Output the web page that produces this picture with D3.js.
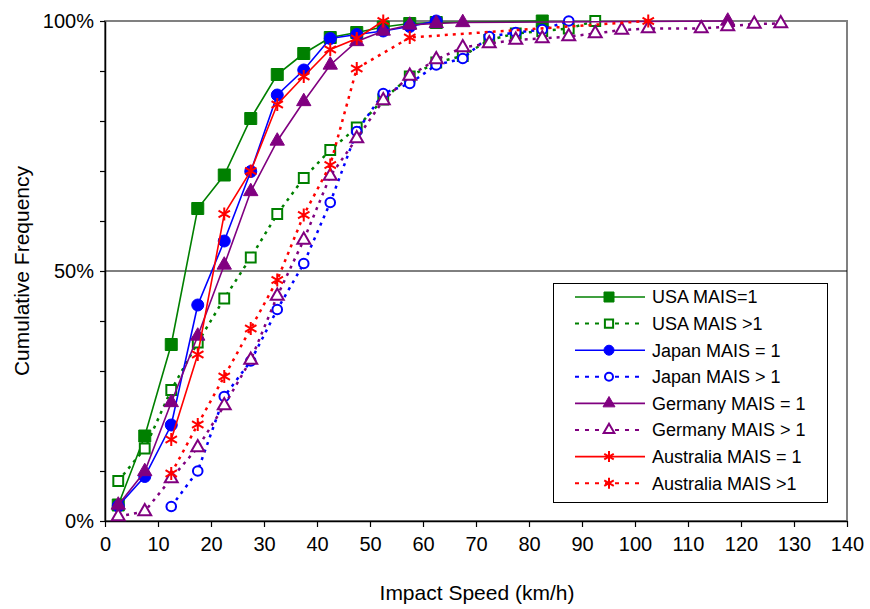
<!DOCTYPE html>
<html>
<head>
<meta charset="utf-8">
<script src="https://cdn.jsdelivr.net/npm/d3@7"></script>
<style>
  html, body { margin: 0; padding: 0; background: #fff; }
  svg { display: block; font-family: "Liberation Sans", Arial, sans-serif; }
</style>
</head>
<body>
<svg id="chart" width="870" height="609"></svg>
<script>
// Cumulative frequency (%) of impact speed by country and injury level
const usa1Speed    = [2.5, 7.5, 12.5, 17.5, 22.5, 27.5, 32.5, 37.5, 42.5, 47.5, 52.5, 57.5, 62.5, 82.5];
const usa1Values   = [3.2, 17, 35.3, 62.5, 69.2, 80.5, 89.3, 93.5, 96.7, 97.7, 98.8, 99.5, 99.7, 100];

const usa2Speed    = [2.5, 7.5, 12.5, 17.5, 22.5, 27.5, 32.5, 37.5, 42.5, 47.5, 52.5, 57.5, 62.5, 67.5, 72.5, 77.5, 82.5, 87.5, 92.5];
const usa2Values   = [8, 14.5, 26.2, 35.7, 44.5, 52.7, 61.4, 68.6, 74.2, 78.7, 84.3, 88.9, 91.7, 93, 96.2, 97.5, 98, 98.5, 100];

const japan1Speed  = [2.5, 7.5, 12.5, 17.5, 22.5, 27.5, 32.5, 37.5, 42.5, 47.5, 52.5, 57.5, 62.5];
const japan1Values = [3, 8.9, 19.2, 43.2, 56, 69.9, 85.2, 90.2, 96.5, 97.3, 98, 98.9, 100];

const japan2Speed  = [12.5, 17.5, 22.5, 27.5, 32.5, 37.5, 42.5, 47.5, 52.5, 57.5, 62.5, 67.5, 72.5, 77.5, 82.5, 87.5];
const japan2Values = [2.9, 10, 24.9, 32, 42.3, 51.5, 63.7, 77.9, 85.5, 87.5, 91.2, 92.5, 96.9, 97.7, 98.3, 100];

const germany1Speed  = [2.5, 7.5, 12.5, 17.5, 22.5, 27.5, 32.5, 37.5, 42.5, 47.5, 52.5, 57.5, 62.5, 67.5, 117.5];
const germany1Values = [3.2, 9.9, 23.7, 37, 51.2, 65.9, 76, 83.9, 91.2, 95.9, 98, 99.2, 99.5, 99.7, 100];

const germany2Speed  = [2.5, 7.5, 12.5, 17.5, 22.5, 27.5, 32.5, 37.5, 42.5, 47.5, 52.5, 57.5, 62.5, 67.5, 72.5, 77.5, 82.5, 87.5, 92.5, 97.5, 102.5, 112.5, 117.5, 122.5, 127.5];
const germany2Values = [0.9, 1.9, 8.5, 14.7, 23.1, 32.2, 45, 56.2, 69, 76.5, 84.1, 89, 92.3, 94.7, 95.5, 96.2, 96.5, 96.9, 97.5, 98.2, 98.5, 98.5, 98.9, 99.4, 99.5];

const australia1Speed  = [12.5, 17.5, 22.5, 27.5, 32.5, 37.5, 42.5, 47.5, 52.5];
const australia1Values = [16.3, 33.3, 61.4, 70, 83.3, 88.9, 94.3, 96.5, 100];

const australia2Speed  = [12.5, 17.5, 22.5, 27.5, 32.5, 37.5, 42.5, 47.5, 57.5, 102.5];
const australia2Values = [9.5, 19.3, 28.9, 38.5, 48.2, 61.2, 71.2, 90.5, 96.7, 100];

const seriesNames = ["USA MAIS=1", "USA MAIS >1", "Japan MAIS = 1", "Japan MAIS > 1",
                     "Germany MAIS = 1", "Germany MAIS > 1", "Australia MAIS = 1", "Australia MAIS >1"];
const xTickValues = [0, 10, 20, 30, 40, 50, 60, 70, 80, 90, 100, 110, 120, 130, 140];
const yLabelTicks = [0, 50, 100];

const series = [
  { name: seriesNames[0], speed: usa1Speed, value: usa1Values, color: "#008000", dashed: false, shape: "square", filled: true },
  { name: seriesNames[1], speed: usa2Speed, value: usa2Values, color: "#008000", dashed: true,  shape: "square", filled: false },
  { name: seriesNames[2], speed: japan1Speed, value: japan1Values, color: "#0000FF", dashed: false, shape: "circle", filled: true },
  { name: seriesNames[3], speed: japan2Speed, value: japan2Values, color: "#0000FF", dashed: true,  shape: "circle", filled: false },
  { name: seriesNames[4], speed: germany1Speed, value: germany1Values, color: "#800080", dashed: false, shape: "triangle", filled: true },
  { name: seriesNames[5], speed: germany2Speed, value: germany2Values, color: "#800080", dashed: true,  shape: "triangle", filled: false },
  { name: seriesNames[6], speed: australia1Speed, value: australia1Values, color: "#FF0000", dashed: false, shape: "star", filled: true },
  { name: seriesNames[7], speed: australia2Speed, value: australia2Values, color: "#FF0000", dashed: true,  shape: "star", filled: false }
];

const svg = d3.select("#chart");
const plotLeft = 105, plotRight = 847, plotTop = 21, plotBottom = 521;

const x = d3.scaleLinear().domain([0, 140]).range([plotLeft, plotRight]);
const y = d3.scaleLinear().domain([0, 100]).range([plotBottom, plotTop]);

// plot frame (top / right edges in gray)
svg.append("rect")
  .attr("x", plotLeft).attr("y", plotTop)
  .attr("width", plotRight - plotLeft).attr("height", plotBottom - plotTop)
  .attr("fill", "none").attr("stroke", "#808080").attr("stroke-width", 2);

// 50% reference line
svg.append("line")
  .attr("x1", plotLeft).attr("x2", plotRight)
  .attr("y1", y(50)).attr("y2", y(50))
  .attr("stroke", "#000").attr("stroke-width", 1);

// axes
const xAxis = d3.axisBottom(x).tickValues(xTickValues).tickSize(6).tickSizeOuter(0).tickPadding(10);
const gx = svg.append("g").attr("transform", `translate(0,${plotBottom})`).call(xAxis);
gx.select(".domain").attr("stroke", "#000").attr("stroke-width", 1.5);
gx.selectAll(".tick line").attr("stroke", "#000").attr("stroke-width", 1.2);
gx.selectAll(".tick text").attr("font-size", 20).attr("fill", "#000")
  .attr("font-family", "'Liberation Sans', Arial, sans-serif");

const yAxis = d3.axisLeft(y).tickValues(d3.range(0, 101, 10)).tickSize(5).tickSizeOuter(0)
  .tickPadding(6)
  .tickFormat(d => yLabelTicks.includes(d) ? d + "%" : "");
const gy = svg.append("g").attr("transform", `translate(${plotLeft},0)`).call(yAxis);
gy.select(".domain").attr("stroke", "#000").attr("stroke-width", 1.5);
gy.selectAll(".tick line").attr("stroke", "#000").attr("stroke-width", 1.2);
gy.selectAll(".tick text").attr("font-size", 20).attr("fill", "#000")
  .attr("font-family", "'Liberation Sans', Arial, sans-serif");

// axis titles
svg.append("text")
  .attr("x", (plotLeft + plotRight) / 2 + 1).attr("y", 600)
  .attr("text-anchor", "middle").attr("font-size", 21).attr("fill", "#000")
  .text("Impact Speed (km/h)");
svg.append("text")
  .attr("transform", `translate(29,${(plotTop + plotBottom) / 2}) rotate(-90)`)
  .attr("text-anchor", "middle").attr("font-size", 21).attr("fill", "#000")
  .text("Cumulative Frequency");

// marker drawing
function drawMarker(g, s, size) {
  const c = s.color;
  if (s.shape === "star") {
    const r = size * 0.55;
    const p = d3.path();
    for (let k = 0; k < 3; k++) {
      const a = Math.PI / 2 + k * Math.PI / 3;
      p.moveTo(-r * Math.cos(a), -r * Math.sin(a));
      p.lineTo(r * Math.cos(a), r * Math.sin(a));
    }
    g.append("path").attr("d", p.toString()).attr("stroke", c).attr("stroke-width", 2).attr("fill", "none");
    return;
  }
  let type, area;
  if (s.shape === "square") { type = d3.symbolSquare; area = s.filled ? size * size : (size * 0.82) ** 2; }
  else if (s.shape === "circle") { type = d3.symbolCircle; area = Math.PI * (s.filled ? size / 2 : size * 0.4) ** 2; }
  else { type = d3.symbolTriangle; area = s.filled ? size * size * 0.62 : size * size * 0.5; }
  g.append("path")
    .attr("d", d3.symbol().type(type).size(area)())
    .attr("fill", s.filled ? c : "#fff")
    .attr("stroke", c)
    .attr("stroke-width", s.filled ? 1 : 2);
}

const line = d3.line().x(d => x(d[0])).y(d => y(d[1]));

series.forEach(s => {
  const pts = s.speed.map((v, i) => [v, s.value[i]]);
  const g = svg.append("g");
  g.append("path")
    .attr("d", line(pts))
    .attr("fill", "none")
    .attr("stroke", s.color)
    .attr("stroke-width", s.dashed ? 2.5 : 1.6)
    .attr("stroke-dasharray", s.dashed ? "3,5" : null);
  pts.forEach(p => {
    const m = g.append("g").attr("transform", `translate(${x(p[0])},${y(p[1])})`);
    drawMarker(m, s, 12);
  });
});

// legend
const legend = svg.append("g");
legend.append("rect")
  .attr("x", 553.5).attr("y", 283.5).attr("width", 274).attr("height", 219)
  .attr("fill", "#fff").attr("stroke", "#000").attr("stroke-width", 1);
series.forEach((s, i) => {
  const ly = 297 + i * 26.6;
  const row = legend.append("g").attr("transform", `translate(0,${ly})`);
  row.append("line")
    .attr("x1", 575).attr("x2", 645).attr("y1", 0).attr("y2", 0)
    .attr("stroke", s.color)
    .attr("stroke-width", s.dashed ? 2 : 1.6)
    .attr("stroke-dasharray", s.dashed ? "4,6" : null);
  const m = row.append("g").attr("transform", "translate(609,0)");
  drawMarker(m, s, 10);
  row.append("text")
    .attr("x", 652).attr("y", 0).attr("dy", "0.36em")
    .attr("font-size", 18).attr("fill", "#000")
    .text(s.name);
});
</script>
</body>
</html>
